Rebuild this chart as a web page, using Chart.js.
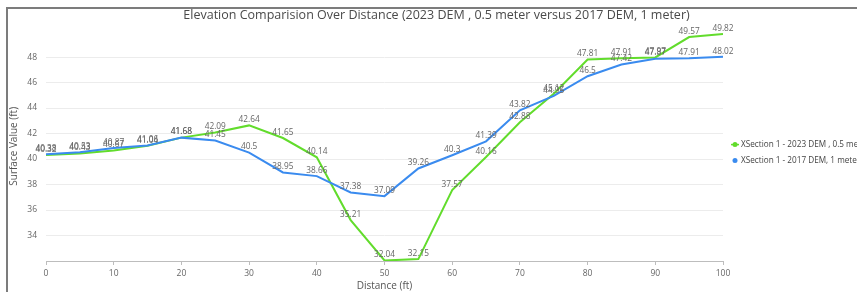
<!DOCTYPE html>
<html>
<head>
<meta charset="utf-8">
<title>Elevation Comparision Over Distance</title>
<script src="https://cdn.jsdelivr.net/npm/chart.js@4.4.0/dist/chart.umd.min.js"></script>
<style>
  html, body { margin: 0; padding: 0; background: #fff; overflow: hidden; width: 857px; height: 292px; }
  #frame { position: absolute; left: 6px; top: 7px; width: 900px; height: 300px; box-sizing: border-box;
           border-top: 2px solid #7c7c7c; border-left: 2px solid #7c7c7c; }
  #wrap { position: absolute; left: 8px; top: 7px; width: 849px; height: 285px; }
</style>
</head>
<body>
<div id="frame"></div>
<div id="wrap"><canvas id="chart"></canvas></div>
<script>
// data
const distance = [0, 5, 10, 15, 20, 25, 30, 35, 40, 45, 50, 55, 60, 65, 70, 75, 80, 85, 90, 95, 100];
const dem2023 = [40.32, 40.43, 40.67, 41.04, 41.68, 42.09, 42.64, 41.65, 40.14, 35.21, 32.04, 32.15, 37.57, 40.16, 42.88, 45.12, 47.81, 47.91, 47.97, 49.57, 49.82];
const dem2017 = [40.38, 40.53, 40.87, 41.06, 41.68, 41.45, 40.5, 38.95, 38.66, 37.38, 37.09, 39.26, 40.3, 41.39, 43.82, 44.95, 46.5, 47.42, 47.87, 47.91, 48.02];
const seriesNames = ['XSection 1 - 2023 DEM , 0.5 meter', 'XSection 1 - 2017 DEM, 1 meter'];
const chartTitle = 'Elevation Comparision Over Distance (2023 DEM , 0.5 meter versus 2017 DEM, 1 meter)';

const GREEN = '#62dc2c';
const BLUE = '#3a8bef';

Chart.defaults.font.family = '"Open Sans", "Noto Sans", sans-serif';
Chart.defaults.color = '#666';

const toPoints = ys => ys.map((y, i) => ({ x: distance[i], y }));

// value labels, title and legend drawn by hand
const extras = {
  id: 'extras',
  afterDatasetsDraw(chart) {
    const ctx = chart.ctx;
    const area = chart.chartArea;
    ctx.save();

    ctx.font = '8.3px "Open Sans", sans-serif';
    ctx.fillStyle = '#666';
    ctx.textAlign = 'center';
    ctx.textBaseline = 'bottom';
    chart.data.datasets.forEach((ds, i) => {
      chart.getDatasetMeta(i).data.forEach((pt, j) => {
        ctx.fillText(String(ds.data[j].y), pt.x, pt.y - 1.5);
      });
    });

    ctx.font = '12.5px "Open Sans", sans-serif';
    ctx.fillStyle = '#4a4a4a';
    ctx.textBaseline = 'middle';
    ctx.fillText(chartTitle, chart.width / 2 + 4, 8.5);

    ctx.font = '8.2px "Open Sans", sans-serif';
    ctx.textAlign = 'left';
    chart.data.datasets.forEach((ds, i) => {
      const lx = area.right + 12, ly = area.top + 113 + i * 16;
      ctx.fillStyle = ds.borderColor;
      ctx.beginPath();
      ctx.arc(lx, ly, 2.5, 0, Math.PI * 2);
      ctx.fill();
      if (i === 0) {
        ctx.strokeStyle = ds.borderColor;
        ctx.lineWidth = 1.5;
        ctx.beginPath(); ctx.moveTo(lx - 4, ly); ctx.lineTo(lx + 4, ly); ctx.stroke();
      }
      ctx.fillStyle = '#444';
      ctx.fillText(ds.label, lx + 6, ly);
    });
    ctx.restore();
  }
};

new Chart(document.getElementById('chart'), {
  type: 'line',
  data: {
    datasets: [
      { label: seriesNames[0], data: toPoints(dem2023), borderColor: GREEN, backgroundColor: GREEN, borderWidth: 2, pointRadius: 0, tension: 0, order: 1 },
      { label: seriesNames[1], data: toPoints(dem2017), borderColor: BLUE, backgroundColor: BLUE, borderWidth: 2, pointRadius: 0, tension: 0, order: 0 }
    ]
  },
  options: {
    responsive: true,
    maintainAspectRatio: false,
    animation: false,
    layout: { padding: { top: 24.6, right: 134, left: 0, bottom: 0 } },
    plugins: { legend: { display: false }, title: { display: false }, tooltip: { enabled: false } },
    scales: {
      x: {
        type: 'linear', min: 0, max: 100,
        ticks: { stepSize: 10, padding: 3, maxRotation: 0, font: { size: 8.5 }, color: '#666' },
        grid: { drawOnChartArea: false, drawTicks: true, tickLength: 4, color: '#bdbdbd' },
        border: { display: true, color: '#bdbdbd' },
        title: { display: true, text: 'Distance (ft)', font: { size: 10 }, color: '#555', padding: 0 },
        afterFit: s => { s.height = 31; }
      },
      y: {
        min: 32, max: 50,
        ticks: { stepSize: 2, padding: 9, font: { size: 8.5 }, color: '#666', callback: v => (v === 32 || v === 50) ? '' : v },
        grid: { drawTicks: false, color: c => (c.tick.value === 32 || c.tick.value === 50) ? 'rgba(0,0,0,0)' : '#ececec' },
        border: { display: false },
        title: { display: true, text: 'Surface Value (ft)', font: { size: 10 }, color: '#555', padding: 0 },
        afterFit: s => { s.width = 38; }
      }
    }
  },
  plugins: [extras]
});
</script>
</body>
</html>
